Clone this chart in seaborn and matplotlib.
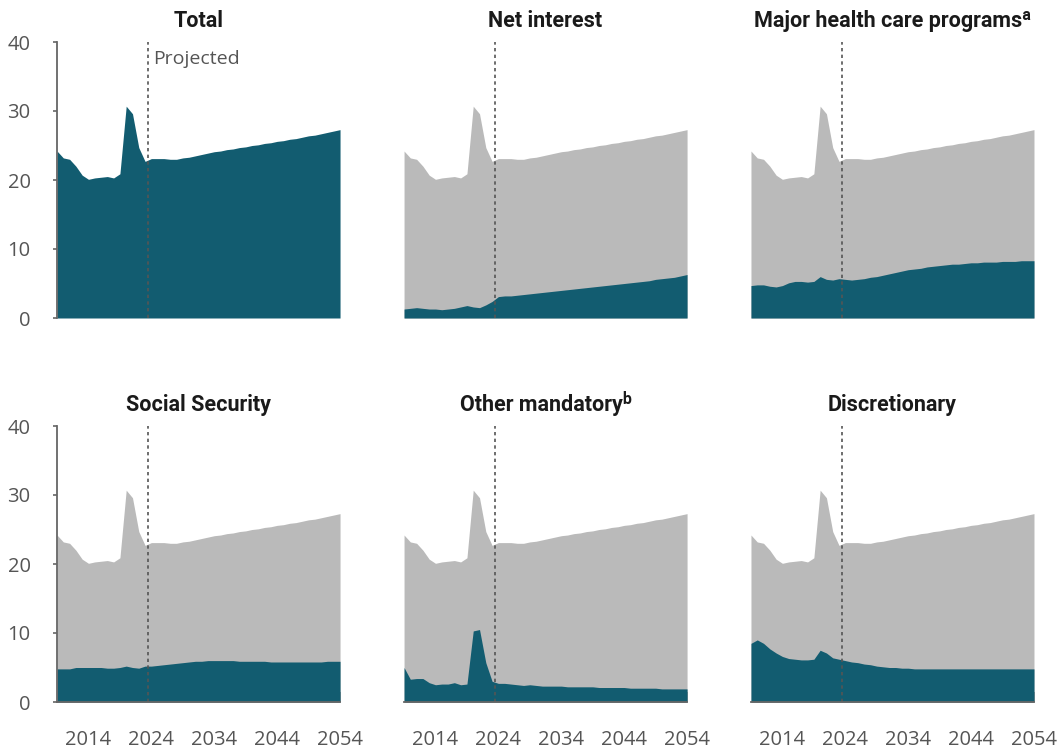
import numpy as np
import pandas as pd
import matplotlib
matplotlib.use("Agg")
import matplotlib.pyplot as plt
import seaborn as sns

# years 2009-2054, outlays as percentage of GDP
years = list(range(2009, 2055))

total = [24.2, 23.2, 23.0, 22.0, 20.7, 20.1, 20.3, 20.4, 20.5, 20.3,
         20.9, 30.7, 29.6, 24.7, 22.7, 23.1, 23.1, 23.1, 23.0, 23.0,
         23.2, 23.3, 23.5, 23.7, 23.9, 24.1, 24.2, 24.4, 24.5, 24.7,
         24.8, 25.0, 25.1, 25.3, 25.4, 25.6, 25.7, 25.9, 26.0, 26.2,
         26.4, 26.5, 26.7, 26.9, 27.1, 27.3]

net_interest = [1.3, 1.4, 1.5, 1.4, 1.3, 1.3, 1.2, 1.3, 1.4, 1.6,
                1.8, 1.6, 1.5, 1.9, 2.4, 3.1, 3.2, 3.2, 3.3, 3.4,
                3.5, 3.6, 3.7, 3.8, 3.9, 4.0, 4.1, 4.2, 4.3, 4.4,
                4.5, 4.6, 4.7, 4.8, 4.9, 5.0, 5.1, 5.2, 5.3, 5.4,
                5.6, 5.7, 5.8, 5.9, 6.1, 6.3]

health = [4.7, 4.8, 4.8, 4.6, 4.5, 4.7, 5.1, 5.3, 5.3, 5.2,
          5.3, 6.0, 5.6, 5.5, 5.7, 5.6, 5.5, 5.6, 5.7, 5.9,
          6.0, 6.2, 6.4, 6.6, 6.8, 7.0, 7.1, 7.2, 7.4, 7.5,
          7.6, 7.7, 7.8, 7.8, 7.9, 8.0, 8.0, 8.1, 8.1, 8.1,
          8.2, 8.2, 8.2, 8.3, 8.3, 8.3]

social_security = [4.8, 4.8, 4.8, 5.0, 5.0, 5.0, 5.0, 5.0, 4.9, 4.9,
                   5.0, 5.2, 5.0, 4.9, 5.2, 5.2, 5.3, 5.4, 5.5, 5.6,
                   5.7, 5.8, 5.9, 5.9, 6.0, 6.0, 6.0, 6.0, 6.0, 5.9,
                   5.9, 5.9, 5.9, 5.9, 5.8, 5.8, 5.8, 5.8, 5.8, 5.8,
                   5.8, 5.8, 5.8, 5.9, 5.9, 5.9]

other_mandatory = [5.0, 3.3, 3.4, 3.4, 2.8, 2.5, 2.6, 2.6, 2.8, 2.5,
                   2.6, 10.3, 10.5, 5.7, 3.0, 2.7, 2.7, 2.6, 2.5, 2.4,
                   2.5, 2.4, 2.3, 2.3, 2.3, 2.3, 2.2, 2.2, 2.2, 2.2,
                   2.2, 2.1, 2.1, 2.1, 2.1, 2.1, 2.0, 2.0, 2.0, 2.0,
                   2.0, 1.9, 1.9, 1.9, 1.9, 1.9]

discretionary = [8.5, 9.0, 8.5, 7.7, 7.1, 6.6, 6.3, 6.2, 6.1, 6.1,
                 6.2, 7.5, 7.1, 6.4, 6.2, 6.0, 5.8, 5.7, 5.5, 5.4,
                 5.2, 5.1, 5.0, 5.0, 4.9, 4.9, 4.8, 4.8, 4.8, 4.8,
                 4.8, 4.8, 4.8, 4.8, 4.8, 4.8, 4.8, 4.8, 4.8, 4.8,
                 4.8, 4.8, 4.8, 4.8, 4.8, 4.8]

titles = ["Total", "Net interest", "Major health care programs\u1d43",
          "Social Security", "Other mandatory\u1d47", "Discretionary"]
series = [total, net_interest, health, social_security, other_mandatory, discretionary]
xticks = [2014, 2024, 2034, 2044, 2054]
yticks = [0, 10, 20, 30, 40]
projection_start = 2023.5

df = pd.DataFrame({"year": years, "total": total})

sns.set_theme(style="white")
plt.rcParams["font.family"] = ["Open Sans", "DejaVu Sans"]

teal = "#125c70"
grey = "#bababa"
axis_grey = "#666666"
text_grey = "#555555"

fig = plt.figure(figsize=(10.58, 7.5), dpi=100)
lefts = [0.0539, 0.3819, 0.7098]
bottoms = [0.576, 0.064]
w, h = 0.2675, 0.368

for i, (title, vals) in enumerate(zip(titles, series)):
    row, col = divmod(i, 3)
    ax = fig.add_axes([lefts[col], bottoms[row], w, h])
    if i > 0:
        ax.fill_between(df["year"], 0, df["total"], color=grey, linewidth=0)
    ax.fill_between(df["year"], 0, vals, color=teal, linewidth=0)
    ax.axvline(projection_start, color=text_grey, linestyle=(0, (2, 2)), linewidth=1.2)

    ax.set_xlim(2009, 2054)
    ax.set_ylim(0, 40)
    ax.set_title(title, fontsize=15.5, fontweight="bold", color="#1a1a1a",
                 pad=11, family=["Roboto", "DejaVu Sans"])

    sns.despine(ax=ax, top=True, right=True, left=(col != 0), bottom=(row == 0))
    for s in ["left", "bottom"]:
        ax.spines[s].set_color(axis_grey)
        ax.spines[s].set_linewidth(1.3)

    if col == 0:
        ax.set_yticks(yticks)
        ax.tick_params(axis="y", length=3, width=1.2, color=axis_grey, pad=16,
                       labelsize=14.5, labelcolor=text_grey, left=True)
    else:
        ax.set_yticks([])

    if row == 1:
        ax.set_xticks(xticks)
        ax.tick_params(axis="x", direction="in", length=7, width=1.2, color=axis_grey,
                       pad=20, labelsize=14.5, labelcolor=text_grey, bottom=True)
    else:
        ax.set_xticks([])

    if i == 0:
        ax.text(projection_start + 0.8, 37.5, "Projected", fontsize=14,
                color=text_grey, va="center", ha="left")

    ax.set_zorder(1)
    for sp in ax.spines.values():
        sp.set_zorder(5)

plt.savefig("out.png", dpi=100)
